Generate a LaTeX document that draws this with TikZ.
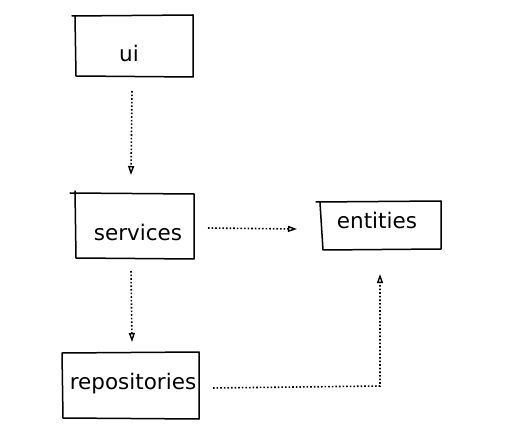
\documentclass[tikz,border=0pt]{standalone}
\usepackage{fontspec}
\setmainfont{DejaVu Sans}
\usetikzlibrary{arrows.meta}
\begin{document}
\begin{tikzpicture}[x=1pt,y=-1pt,
  boxline/.style={line width=1.5pt, line join=round, line cap=round},
  lbl/.style={inner sep=0pt, font=\fontsize{21.5}{25}\selectfont},
  dep/.style={line width=1.6pt, dotted, -{Triangle[open,length=9pt,width=6pt,line width=1.4pt]}},
  link/.style={line width=1.6pt, dotted}]
\useasboundingbox (0,0) rectangle (513,435);
% ui box
\draw[boxline] (72,16) -- (193,15) -- (193,77) -- (76,76) -- (75,17);
\node[lbl] (ui) at (129,53) {ui};
% services box
\draw[boxline] (70,193) -- (194,194) -- (194,259) -- (76,258) -- (75,191);
\node[lbl] (services) at (138,232) {services};
% entities box
\draw[boxline] (316,202) -- (441,201) -- (441,249) -- (323,250) -- (320,203);
\node[lbl] (entities) at (377,220) {entities};
% repositories box
\draw[boxline] (62,353) -- (199,352) -- (199,419) -- (63,418) -- (62,353);
\node[lbl] (repositories) at (133,384) {repositories};
% connector endpoints
\coordinate (a1) at (132,91);
\coordinate (a2) at (131,175);
\coordinate (b1) at (131,271);
\coordinate (b2) at (132,342);
\coordinate (c1) at (208,228);
\coordinate (c2) at (297,229);
\coordinate (d1) at (213,388);
\coordinate (d2) at (380,386);
\coordinate (d3) at (380,274);
\draw[dep] (a1) -- (a2);
\draw[dep] (b1) -- (b2);
\draw[dep] (c1) -- (c2);
\draw[dep] (d1) -- (d2) -- (d3);
\end{tikzpicture}
\end{document}
